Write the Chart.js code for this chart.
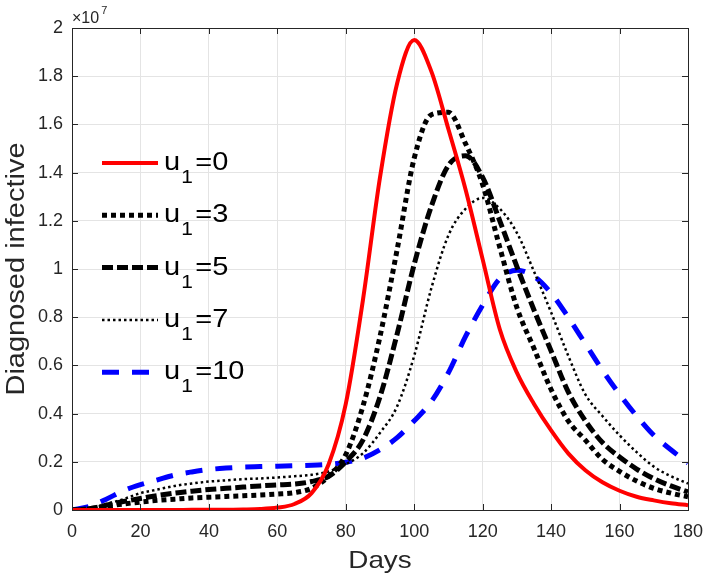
<!DOCTYPE html>
<html>
<head>
<meta charset="utf-8">
<script src="https://cdn.jsdelivr.net/npm/chart.js@4/dist/chart.umd.min.js"></script>
<style>
  body { margin: 0; background: #fff; }
  #wrap { width: 708px; height: 581px; }
</style>
</head>
<body>
<div id="wrap"><canvas id="chart" width="708" height="581"></canvas></div>
<script>
// values in units of 10^7
const days = [0, 5, 10, 15, 20, 25, 30, 35, 40, 45, 50, 55, 60, 65, 70, 75, 80, 85, 90,
  95, 100, 105, 110, 115, 120, 125, 130, 135, 140, 145, 150, 155, 160, 165, 170, 175, 180];

const u0 = [0, 0, 0, 0, 0, 0, 0, 0.001, 0.001, 0.001, 0.002, 0.004, 0.01, 0.025, 0.07, 0.19, 0.44,
  0.87, 1.38, 1.77, 1.95, 1.82, 1.58, 1.33, 1.04, 0.75, 0.57, 0.44, 0.33, 0.235, 0.165, 0.115,
  0.08, 0.055, 0.04, 0.028, 0.02];
const u3 = [0, 0.005, 0.015, 0.025, 0.033, 0.04, 0.045, 0.05, 0.053, 0.056, 0.059, 0.062, 0.066,
  0.072, 0.09, 0.14, 0.23, 0.43, 0.72, 1.08, 1.46, 1.64, 1.65, 1.52, 1.35, 1.09, 0.84, 0.67,
  0.5, 0.37, 0.29, 0.21, 0.16, 0.12, 0.09, 0.07, 0.055];
const u5 = [0, 0.005, 0.02, 0.035, 0.048, 0.06, 0.07, 0.078, 0.085, 0.09, 0.095, 0.1, 0.104,
  0.108, 0.118, 0.14, 0.2, 0.29, 0.47, 0.73, 1.02, 1.26, 1.43, 1.47, 1.38, 1.2, 1.01, 0.83,
  0.66, 0.49, 0.37, 0.28, 0.22, 0.17, 0.13, 0.1, 0.075];
const u7 = [0, 0.008, 0.025, 0.045, 0.07, 0.085, 0.1, 0.11, 0.118, 0.123, 0.128, 0.131, 0.135,
  0.14, 0.146, 0.16, 0.19, 0.235, 0.32, 0.43, 0.64, 0.92, 1.14, 1.25, 1.295, 1.25, 1.15, 0.99,
  0.82, 0.64, 0.48, 0.39, 0.31, 0.24, 0.18, 0.14, 0.11];
const u10 = [0, 0.015, 0.045, 0.08, 0.105, 0.125, 0.145, 0.158, 0.168, 0.174, 0.178, 0.18, 0.182,
  0.184, 0.186, 0.19, 0.198, 0.215, 0.25, 0.3, 0.37, 0.45, 0.57, 0.72, 0.85, 0.96, 0.995, 0.97,
  0.9, 0.8, 0.69, 0.58, 0.48, 0.39, 0.31, 0.25, 0.195];

const seriesLabels = ['0', '3', '5', '7', '10'];
const xTicks = [0, 20, 40, 60, 80, 100, 120, 140, 160, 180];
const yTicks = [0, 0.2, 0.4, 0.6, 0.8, 1, 1.2, 1.4, 1.6, 1.8, 2];

const FONT = '"Liberation Sans", Arial, sans-serif';
const TXT = '#262626';
const STRETCH = 1.16;

const styles = [
  { color: '#ff0000', width: 4, dash: [] },
  { color: '#000000', width: 5, dash: [5, 4] },
  { color: '#000000', width: 5, dash: [11, 4] },
  { color: '#000000', width: 2.5, dash: [2.5, 3] },
  { color: '#0000ff', width: 5, dash: [17, 13] }
];

const mk = (vals, i) => ({
  label: 'u1=' + seriesLabels[i],
  data: vals.map((v, k) => ({ x: days[k], y: v })),
  borderColor: styles[i].color,
  borderWidth: styles[i].width,
  borderDash: styles[i].dash,
  borderCapStyle: 'butt',
  pointRadius: 0,
  fill: false,
  cubicInterpolationMode: 'monotone'
});

// box, inward ticks, axis titles and exponent (matlab look)
const boxPlugin = {
  id: 'box',
  afterDraw(chart) {
    const { ctx, chartArea: a, scales } = chart;
    ctx.save();
    ctx.strokeStyle = TXT;
    ctx.lineWidth = 1;
    ctx.beginPath();
    xTicks.forEach(t => {
      const px = Math.round(scales.x.getPixelForValue(t)) + 0.5;
      ctx.moveTo(px, a.bottom); ctx.lineTo(px, a.bottom - 6);
      ctx.moveTo(px, a.top); ctx.lineTo(px, a.top + 6);
    });
    yTicks.forEach(t => {
      const py = Math.round(scales.y.getPixelForValue(t)) + 0.5;
      ctx.moveTo(a.left, py); ctx.lineTo(a.left + 6, py);
      ctx.moveTo(a.right, py); ctx.lineTo(a.right - 6, py);
    });
    ctx.stroke();
    ctx.strokeRect(Math.round(a.left) + 0.5, Math.round(a.top) + 0.5,
      Math.round(a.right - a.left), Math.round(a.bottom - a.top));

    ctx.fillStyle = TXT;
    ctx.textBaseline = 'alphabetic';

    // exponent label
    ctx.font = '16px ' + FONT;
    ctx.fillText('\u00d710', a.left, a.top - 5);
    const w = ctx.measureText('\u00d710').width;
    ctx.font = '11px ' + FONT;
    ctx.fillText('7', a.left + w + 2, a.top - 14);

    // x title
    ctx.font = '24px ' + FONT;
    ctx.textAlign = 'center';
    ctx.save();
    ctx.translate((a.left + a.right) / 2, 568);
    ctx.scale(STRETCH, 1);
    ctx.fillText('Days', 0, 0);
    ctx.restore();

    // y title
    ctx.font = '25px ' + FONT;
    ctx.save();
    ctx.translate(23.5, (a.top + a.bottom) / 2);
    ctx.rotate(-Math.PI / 2);
    ctx.scale(STRETCH, 1);
    ctx.fillText('Diagnosed infective', 0, 0);
    ctx.restore();
    ctx.restore();
  }
};

// legend with subscript, no box
const legendPlugin = {
  id: 'subLegend',
  afterDatasetsDraw(chart) {
    const { ctx } = chart;
    ctx.save();
    chart.data.datasets.forEach((ds, i) => {
      const y = 163 + i * 52.3;
      ctx.strokeStyle = ds.borderColor;
      ctx.lineWidth = ds.borderWidth;
      ctx.setLineDash(ds.borderDash);
      ctx.beginPath();
      ctx.moveTo(102, y);
      ctx.lineTo(158, y);
      ctx.stroke();
      ctx.setLineDash([]);
      ctx.fillStyle = '#000';
      ctx.textBaseline = 'alphabetic';
      ctx.save();
      ctx.translate(164, y + 7);
      ctx.scale(STRETCH, 1);
      let x = 0;
      ctx.font = '25px ' + FONT;
      ctx.fillText('u', x, 0);
      x += ctx.measureText('u').width + 1;
      ctx.font = '18px ' + FONT;
      ctx.fillText('1', x, 13);
      x += ctx.measureText('1').width + 2;
      ctx.font = '25px ' + FONT;
      ctx.fillText('=' + seriesLabels[i], x, 0);
      ctx.restore();
    });
    ctx.restore();
  }
};

new Chart(document.getElementById('chart'), {
  type: 'line',
  data: {
    datasets: [mk(u0, 0), mk(u3, 1), mk(u5, 2), mk(u7, 3), mk(u10, 4)]
  },
  options: {
    responsive: false,
    animation: false,
    layout: { padding: { left: 0, right: 20, top: 28, bottom: 0 } },
    plugins: {
      legend: { display: false },
      tooltip: { enabled: false }
    },
    scales: {
      x: {
        type: 'linear',
        min: 0,
        max: 180,
        afterBuildTicks: s => { s.ticks = xTicks.map(v => ({ value: v })); },
        afterFit: s => { s.height = 71; s.paddingLeft = 0; s.paddingRight = 0; },
        grid: { color: '#e4e4e4', drawTicks: false },
        border: { display: false },
        ticks: { color: TXT, font: { family: FONT, size: 18 }, padding: 11, maxRotation: 0 }
      },
      y: {
        min: 0,
        max: 2,
        afterBuildTicks: s => { s.ticks = yTicks.map(v => ({ value: v })); },
        afterFit: s => { s.width = 72; s.paddingTop = 0; s.paddingBottom = 0; },
        grid: { color: '#e4e4e4', drawTicks: false },
        border: { display: false },
        ticks: {
          color: TXT,
          font: { family: FONT, size: 18 },
          padding: 9,
          callback: v => String(Math.round(v * 10) / 10)
        }
      }
    }
  },
  plugins: [boxPlugin, legendPlugin]
});
</script>
</body>
</html>
